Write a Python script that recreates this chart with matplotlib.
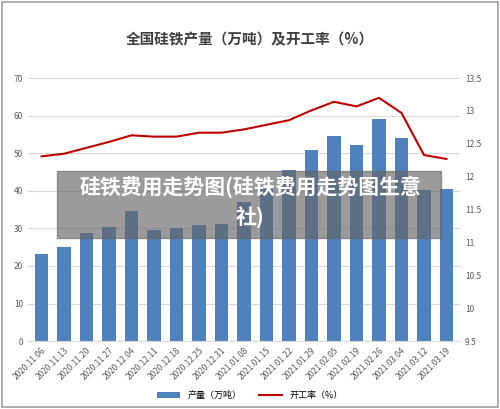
import matplotlib
matplotlib.use('Agg')
from matplotlib import pyplot as plt
from matplotlib.patches import Rectangle
import numpy as np

plt.rcParams['font.family'] = ['Noto Sans CJK SC', 'DejaVu Sans']

dates = ['2020.11.06', '2020.11.13', '2020.11.20', '2020.11.27', '2020.12.04', '2020.12.11',
         '2020.12.18', '2020.12.25', '2020.12.31', '2021.01.08', '2021.01.15', '2021.01.22',
         '2021.01.29', '2021.02.05', '2021.02.19', '2021.02.26', '2021.03.04', '2021.03.12',
         '2021.03.19']
output = [23.2, 25.0, 28.8, 30.4, 34.5, 29.7, 30.1, 31.0, 31.3, 37.0, 40.5, 45.5,
          50.9, 54.7, 52.3, 59.0, 54.0, 40.2, 40.4]
rate = [12.31, 12.35, 12.44, 12.53, 12.63, 12.61, 12.61, 12.67, 12.67, 12.72, 12.79, 12.86,
        13.01, 13.14, 13.07, 13.20, 12.97, 12.33, 12.27]

fig = plt.figure(figsize=(5.0, 4.09), dpi=100)
fig.patches.append(Rectangle((0.004, 0.004), 0.992, 0.992, transform=fig.transFigure,
                             fill=False, edgecolor='#a0a0a0', lw=1.2))
ax = fig.add_axes([0.056, 0.166, 0.864, 0.643])
x = np.arange(len(dates))
ax.bar(x, output, width=0.58, color='#4f81bd', label='产量（万吨）', zorder=2)
ax.set_ylim(0, 70)
ax.set_yticks(range(0, 71, 10))
ax.set_xlim(-0.6, len(dates) - 0.4)
ax.yaxis.grid(True, color='#d9d9d9', lw=0.8, zorder=0)
ax.set_xticks(x)
ax.set_xticklabels(dates, rotation=45, ha='right', rotation_mode='anchor', fontsize=5.5, color='#595959')
for s in ['top', 'right', 'left']:
    ax.spines[s].set_visible(False)
ax.spines['bottom'].set_color('#d9d9d9')
ax.tick_params(length=0, labelsize=6, colors='#595959')

ax2 = ax.twinx()
ax2.plot(x, rate, color='#c00000', lw=1.5, label='开工率（%）')
ax2.set_ylim(9.5, 13.5)
ax2.set_yticks(np.arange(9.5, 13.6, 0.5))
ax2.set_yticklabels(['9.5', '10', '10.5', '11', '11.5', '12', '12.5', '13', '13.5'])
ax2.tick_params(length=0, labelsize=6, colors='#595959')
for s in ax2.spines.values():
    s.set_visible(False)

fig.text(0.5, 0.905, '全国硅铁产量（万吨）及开工率（%）', ha='center', va='center', fontsize=10.5,
         fontweight='bold', color='#404040')
h1, l1 = ax.get_legend_handles_labels()
h2, l2 = ax2.get_legend_handles_labels()
fig.legend(h1 + h2, l1 + l2, loc='center', bbox_to_anchor=(0.5, 0.033), ncol=2, frameon=False,
           fontsize=6.5, handlelength=2.5)

fig.patches.append(Rectangle((0.114, 0.418), 0.768, 0.164, transform=fig.transFigure,
                             color='#666666', alpha=0.65, zorder=5))
fig.text(0.5, 0.543, '硅铁费用走势图(硅铁费用走势图生意', ha='center', va='center', fontsize=15,
         fontweight='bold', color='white', zorder=6)
fig.text(0.5, 0.468, '社)', ha='center', va='center', fontsize=15,
         fontweight='bold', color='white', zorder=6)

plt.savefig('out.png')
plt.close()
